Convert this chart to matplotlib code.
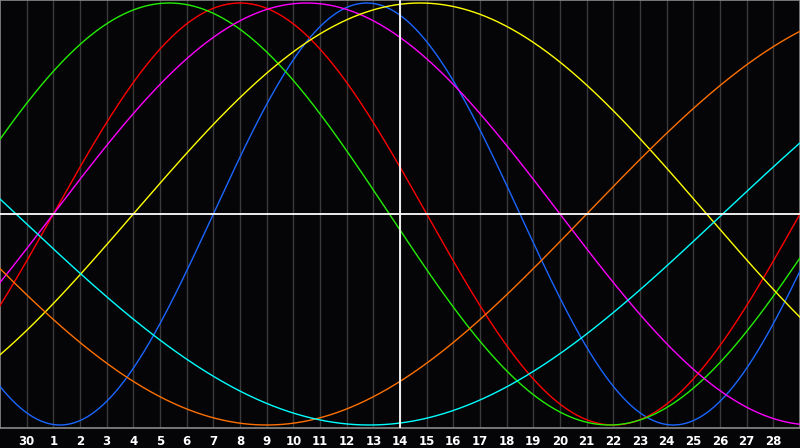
import numpy as np
import matplotlib
matplotlib.use("Agg")
import matplotlib.pyplot as plt

# Day labels along the bottom (index 1..29), index 15 is the highlighted day (14)
day_labels = ["30"] + [str(d) for d in range(1, 29)]
center_index = 15

# Biorhythm cycles: period (days) and days-into-cycle at the highlighted day
cycle_names = ["physical", "emotional", "intellectual", "intuitive", "aesthetic", "awareness", "spiritual"]
periods = [23, 28, 33, 38, 43, 48, 53]
phase_at_center = [7.0, 13.0, 16.9, 13.0, 10.0, 41.0, 40.9]
colors = ["#1a66ff", "#ff0000", "#22ee00", "#ff00ff", "#ffff00", "#ff7000", "#00ffff"]

bg = "#050508"
fig = plt.figure(figsize=(8, 4.48), dpi=100, facecolor=bg)
ax = fig.add_axes([0, 20 / 448, 1, 428 / 448])
ax.set_facecolor(bg)

ax.set_xlim(0, 30)
lim = 214 / 211
ax.set_ylim(-lim, lim)

for k in range(1, 30):
    ax.axvline(k, color="#3a3a3a", lw=1, zorder=1)

x = np.linspace(0, 30, 1201)
for P, ph, c in zip(periods, phase_at_center, colors):
    t = ph + (x - center_index)
    ax.plot(x, np.sin(2 * np.pi * t / P), color=c, lw=1, zorder=3)

ax.axhline(0, color="white", lw=1.3, zorder=4)
ax.axvline(center_index, color="white", lw=1.3, zorder=4)

for s in ax.spines.values():
    s.set_color("#8a8a8a")
    s.set_linewidth(1.2)

ax.set_xticks(range(1, 30))
ax.set_xticklabels(day_labels)
ax.tick_params(axis="x", length=0, pad=5, colors="white", labelsize=8.5)
for lbl in ax.get_xticklabels():
    lbl.set_fontweight("bold")
ax.set_yticks([])

fig.savefig("out.png", dpi=100, facecolor=bg)
